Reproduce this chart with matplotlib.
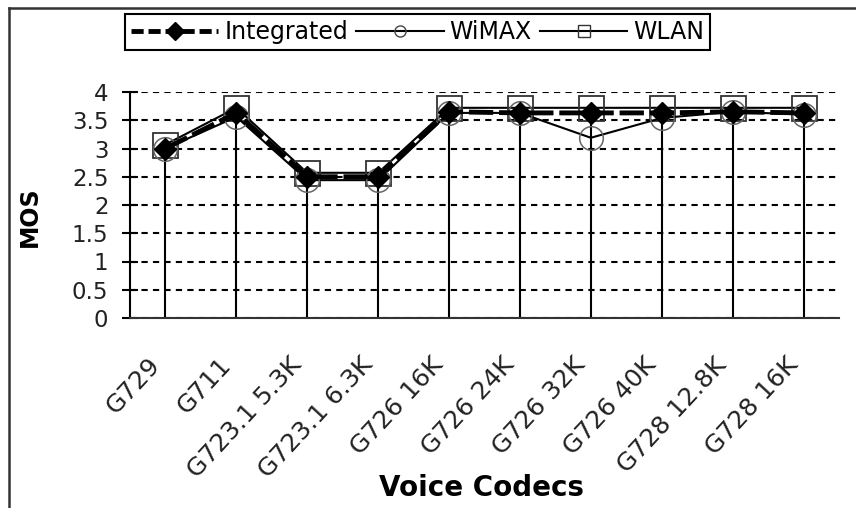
import matplotlib
matplotlib.use("Agg")
import matplotlib.pyplot as plt
from matplotlib.lines import Line2D
from matplotlib.transforms import ScaledTranslation

plt.rcParams['font.family'] = ['DejaVu Sans']

# MOS per voice codec for each network setup
codecs = ["G729", "G711", "G723.1 5.3K", "G723.1 6.3K", "G726 16K",
          "G726 24K", "G726 32K", "G726 40K", "G728 12.8K", "G728 16K"]
integrated = [3.0, 3.63, 2.5, 2.5, 3.65, 3.63, 3.63, 3.63, 3.65, 3.63]
wimax = [3.0, 3.56, 2.44, 2.44, 3.63, 3.63, 3.19, 3.54, 3.65, 3.6]
wlan = [3.07, 3.72, 2.57, 2.57, 3.72, 3.72, 3.72, 3.72, 3.72, 3.72]
yticks = [0, 0.5, 1, 1.5, 2, 2.5, 3, 3.5, 4]
yticklabels = ["0", "0.5", "1", "1.5", "2", "2.5", "3", "3.5", "4"]

W, H = 856, 508
fig = plt.figure(figsize=(W / 100, H / 100), dpi=100)
ax = fig.add_axes([130 / W, 1 - 318 / H, (839 - 130) / W, (318 - 92) / H])

x = list(range(len(codecs)))

# drop lines from each category down to the axis
tops = [max(a, b, c) for a, b, c in zip(integrated, wimax, wlan)]
ax.vlines(x, 0, tops, color="black", lw=1.5, zorder=2)

ax.plot(x, wlan, color="black", lw=1.5, marker="s", ms=18, mfc="none",
        mec="#333333", mew=1.3, zorder=3)
ax.plot(x, wimax, color="black", lw=1.5, marker="o", ms=17, mfc="none",
        mec="#666666", mew=1.1, zorder=3)
ax.plot(x, integrated, color="black", lw=3.5, ls=(0, (5, 1.2)), marker="D",
        ms=11, mfc="black", mec="black", zorder=4)

ax.set_xlim(-0.5, len(codecs) - 0.5)
ax.set_ylim(0, 4)
ax.set_yticks(yticks)
ax.set_yticklabels(yticklabels)
ax.set_xticks(x)
ax.set_xticklabels(codecs, rotation=47, ha="right", va="center",
                   rotation_mode="anchor")

ax.yaxis.grid(True, color="black", lw=1.5, ls=(0, (3, 2.5)))
ax.set_axisbelow(True)

for side in ("top", "right"):
    ax.spines[side].set_visible(False)
ax.spines["left"].set_linewidth(1.5)
ax.spines["bottom"].set_linewidth(1.5)
ax.spines["bottom"].set_color("#333333")

ax.tick_params(axis="y", direction="inout", length=11, width=1.5,
               labelsize=16.5, pad=10, colors="black", labelcolor="#222222")
ax.tick_params(axis="x", length=0, labelsize=18, pad=31, labelcolor="#222222")
shift = ScaledTranslation(-7 / 72, 0, fig.dpi_scale_trans)
for lab in ax.get_xticklabels():
    lab.set_transform(lab.get_transform() + shift)

ax.set_ylabel("MOS", fontsize=17, fontweight="bold")
ax.yaxis.set_label_coords(-0.124, 0.447)
ax.set_xlabel("Voice Codecs", fontsize=20, fontweight="bold")
ax.xaxis.set_label_coords(0.496, -0.69)

handles = [
    Line2D([], [], color="black", lw=3.5, ls=(0, (2.5, 1)), marker="D", ms=9),
    Line2D([], [], color="black", lw=1.5, marker="o", ms=8, mfc="none", mec="#444444"),
    Line2D([], [], color="black", lw=1.5, marker="s", ms=9, mfc="none", mec="#333333"),
]
leg = fig.legend(handles, ["Integrated", "WiMAX", "WLAN"], loc="upper left",
                 bbox_to_anchor=(125 / W, 1 - 14 / H), ncol=3, fontsize=17,
                 frameon=True, fancybox=False, framealpha=1, edgecolor="black",
                 handlelength=3.7, handletextpad=0.25, columnspacing=0.35,
                 borderpad=0.25, borderaxespad=0)
leg.get_frame().set_linewidth(1.5)

# outer frame, only the top and left edges
fig.add_artist(Line2D([9 / W, 9 / W], [0, 1 - 8 / H], transform=fig.transFigure,
                      color="#333333", lw=1.8))
fig.add_artist(Line2D([9 / W, 1], [1 - 8 / H, 1 - 8 / H], transform=fig.transFigure,
                      color="#333333", lw=1.8))

fig.savefig("out.png", dpi=100)
